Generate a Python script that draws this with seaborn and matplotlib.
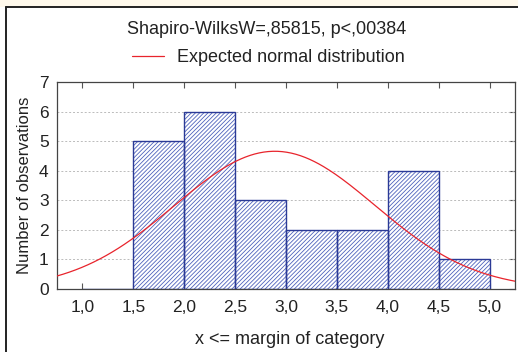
import matplotlib
matplotlib.use("Agg")
import matplotlib.pyplot as plt
import numpy as np
import seaborn as sns
from matplotlib.lines import Line2D
from matplotlib.patches import Rectangle

# histogram: upper margins of categories and counts
bin_edges = [1.0, 1.5, 2.0, 2.5, 3.0, 3.5, 4.0, 4.5, 5.0]
counts = [0, 5, 6, 3, 2, 2, 4, 1]

# expected normal distribution (fitted parameters)
n_obs = 23
mean_x = 2.89
sd_x = 0.985

x_ticks = [1.0, 1.5, 2.0, 2.5, 3.0, 3.5, 4.0, 4.5, 5.0]
x_tick_labels = ["1,0", "1,5", "2,0", "2,5", "3,0", "3,5", "4,0", "4,5", "5,0"]
y_ticks = [0, 1, 2, 3, 4, 5, 6, 7]

title_text = "Shapiro-WilksW=,85815, p<,00384"
legend_text = "Expected normal distribution"

sns.set_style("white")
plt.rcParams["font.family"] = ["Liberation Sans", "DejaVu Sans"]
plt.rcParams["hatch.linewidth"] = 0.6

BAR_EDGE = "#2B3A96"
HATCH = "#4E62BC"
CURVE = "#E8242C"
TEXT = "#222222"

fig = plt.figure(figsize=(5.18, 3.52), dpi=100)
ax = fig.add_axes([57 / 518, 1 - 289 / 352, (515 - 57) / 518, (289 - 82) / 352])

centers = [(a + b) / 2 for a, b in zip(bin_edges[:-1], bin_edges[1:])]

# hatched fill first, then the dark outlines on top
sns.histplot(x=centers, weights=counts, bins=bin_edges, ax=ax,
             color="white", edgecolor=HATCH, linewidth=0, alpha=1.0)
for p in ax.patches:
    p.set_facecolor("white")
    p.set_edgecolor(HATCH)
    p.set_linewidth(0)
    p.set_hatch("////////")
    p.set_zorder(2)
n_first = len(ax.patches)
sns.histplot(x=centers, weights=counts, bins=bin_edges, ax=ax,
             fill=False, element="bars", edgecolor=BAR_EDGE, linewidth=1.0)
for p in ax.patches[n_first:]:
    p.set_facecolor("none")
    p.set_edgecolor(BAR_EDGE)
    p.set_linewidth(1.0)
    p.set_zorder(2.5)

bw = bin_edges[1] - bin_edges[0]
xs = np.linspace(0.75, 5.25, 300)
ys = n_obs * bw * np.exp(-0.5 * ((xs - mean_x) / sd_x) ** 2) / (sd_x * np.sqrt(2 * np.pi))
sns.lineplot(x=xs, y=ys, ax=ax, color=CURVE, linewidth=0.9, zorder=3)

ax.set_xlim(0.75, 5.25)
ax.set_ylim(0, 7)
ax.set_xticks(x_ticks)
ax.set_xticklabels(x_tick_labels)
ax.set_yticks(y_ticks)
ax.tick_params(axis="both", direction="in", length=4, width=0.8, color="#555555",
               labelsize=12.5, labelcolor=TEXT,
               top=True, right=True, bottom=True, left=False)
ax.tick_params(axis="x", pad=8)
ax.tick_params(axis="y", pad=6)
for yv in y_ticks[1:-1]:
    ax.axhline(yv, color="#BBBBBB", linewidth=0.7, linestyle=(0, (2, 2)), zorder=1)
for s in ax.spines.values():
    s.set_color("#444444")
    s.set_linewidth(0.9)

ax.set_xlabel("x <= margin of category", fontsize=13, color=TEXT)
ax.set_ylabel("Number of observations", fontsize=12, color=TEXT)
ax.xaxis.set_label_coords((290 - 57) / 458, (289 - 331) / 207)
ax.yaxis.set_label_coords((32 - 57) / 458, 0.5)

fig.text(0.514, 1 - 30 / 352, title_text, ha="center", va="center", fontsize=13, color=TEXT)
fig.legend([Line2D([0], [0], color=CURVE, linewidth=0.9)], [legend_text],
           loc="center", bbox_to_anchor=(0.518, 1 - 58 / 352), frameon=False,
           fontsize=13, handlelength=1.8, handletextpad=0.7, labelcolor=TEXT)

# outer frame and cream strip
fig.patches.append(Rectangle((0, 1 - 7 / 352), 1, 7 / 352, transform=fig.transFigure,
                             facecolor="#FFF9EC", edgecolor="none", zorder=0))
fig.lines.append(Line2D([6 / 518, 1], [1 - 7 / 352, 1 - 7 / 352], transform=fig.transFigure,
                        color="#222222", linewidth=1.4))
fig.lines.append(Line2D([6 / 518, 6 / 518], [0, 1 - 7 / 352], transform=fig.transFigure,
                        color="#222222", linewidth=1.4))

fig.savefig("out.png", dpi=100)
